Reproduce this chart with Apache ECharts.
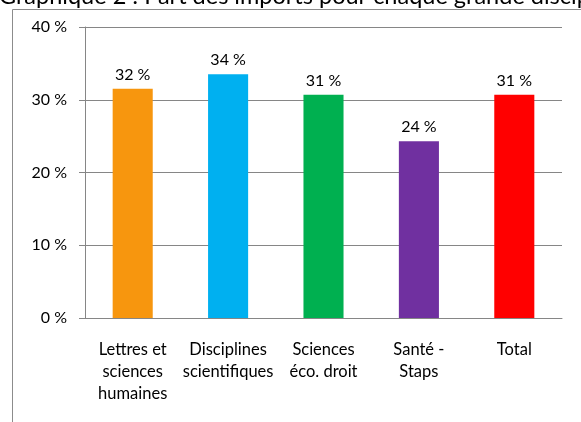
<!DOCTYPE html>
<html>
<head>
<meta charset="utf-8">
<script src="https://cdn.jsdelivr.net/npm/echarts@6/dist/echarts.min.js"></script>
<style>
  html, body { margin: 0; padding: 0; background: #fff; }
  #chart { width: 581px; height: 422px; }
</style>
</head>
<body>
<div id="chart"></div>
<script>
const categories = ["Lettres et\nsciences\nhumaines", "Disciplines\nscientifiques", "Sciences\néco. droit", "Santé -\nStaps", "Total"];
const values = [31.5, 33.5, 30.7, 24.3, 30.7];
const barColors = ["#F7960E", "#00B0F0", "#00B050", "#7030A0", "#FF0000"];
const yTicks = [0, 10, 20, 30, 40];

const chart = echarts.init(document.getElementById("chart"));
const font = "Lato, 'Open Sans', sans-serif";

chart.setOption({
  animation: false,
  textStyle: { fontFamily: font },
  graphic: [
    {
      type: "text",
      left: -1,
      top: -16,
      style: {
        text: "Graphique 2 : Part des imports pour chaque grande discipline",
        font: "23.5px " + font,
        fill: "#000",
      },
    },
    {
      type: "rect",
      shape: { x: 12.5, y: 9.5, width: 600, height: 450 },
      style: { fill: "none", stroke: "#8c8c8c", lineWidth: 1 },
      z: -1,
    },
  ],
  grid: {
    left: 85,
    right: 19,
    top: 27,
    bottom: 104,
  },
  xAxis: {
    type: "category",
    data: categories,
    axisLine: { lineStyle: { color: "#868686" } },
    axisTick: { length: 6, lineStyle: { color: "#868686" } },
    axisLabel: {
      color: "#000",
      fontSize: 16.5,
      lineHeight: 22,
      margin: 21,
      interval: 0,
      fontFamily: font,
    },
  },
  yAxis: {
    type: "value",
    min: 0,
    max: 40,
    interval: 10,
    axisLine: { show: true, lineStyle: { color: "#868686" } },
    axisTick: { show: true, length: 6, lineStyle: { color: "#868686" } },
    splitLine: { lineStyle: { color: "#868686" } },
    axisLabel: {
      color: "#000",
      fontSize: 16,
      margin: 18,
      fontFamily: font,
      formatter: (v) => (yTicks.includes(v) ? v + " %" : ""),
    },
  },
  series: [
    {
      type: "bar",
      barWidth: "42%",
      data: values.map((v, i) => ({ value: v, itemStyle: { color: barColors[i] } })),
      label: {
        show: true,
        position: "top",
        distance: 6,
        color: "#000",
        fontSize: 16,
        fontFamily: font,
        formatter: (p) => Math.round(p.value) + " %",
      },
    },
  ],
});
</script>
</body>
</html>
